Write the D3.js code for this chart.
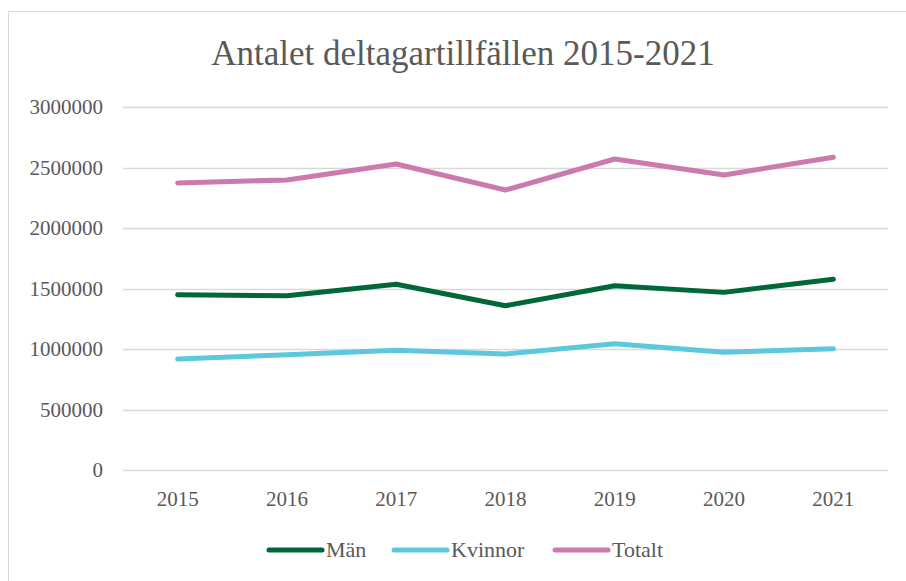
<!DOCTYPE html>
<html>
<head>
<meta charset="utf-8">
<script src="https://cdn.jsdelivr.net/npm/d3@7"></script>
<style>
  body { margin: 0; background: #fff; }
  svg { display: block; }
  text { font-family: "Liberation Serif", "DejaVu Serif", serif; fill: #595959; }
</style>
</head>
<body>
<svg id="chart" width="906" height="581"></svg>
<script>
const years = ["2015", "2016", "2017", "2018", "2019", "2020", "2021"];
const man = [1449000, 1440000, 1535000, 1358000, 1523000, 1468000, 1576000];
const kvinnor = [917000, 953000, 989000, 959000, 1044000, 973000, 1003000];
const totalt = [2372000, 2397000, 2529000, 2314000, 2570000, 2438000, 2585000];
const yTicks = [0, 500000, 1000000, 1500000, 2000000, 2500000, 3000000];

const series = [
  { name: "Män", values: man, color: "#006838" },
  { name: "Kvinnor", values: kvinnor, color: "#5BC8DB" },
  { name: "Totalt", values: totalt, color: "#CC79AD" },
];

const margin = { top: 107, right: 18, bottom: 111, left: 123 };
const width = 906, height = 581;

const svg = d3.select("#chart");

// chart frame
svg.append("rect")
  .attr("x", 8.5).attr("y", 11.5)
  .attr("width", 920).attr("height", 600)
  .attr("fill", "#fff")
  .attr("stroke", "#d9d9d9")
  .attr("stroke-width", 1);

const xScale = d3.scaleBand()
  .domain(years)
  .range([margin.left, width - margin.right]);

const yScale = d3.scaleLinear()
  .domain([0, 3000000])
  .range([height - margin.bottom, margin.top]);

// gridlines
svg.append("g")
  .selectAll("line")
  .data(yTicks)
  .join("line")
  .attr("x1", margin.left).attr("x2", width - margin.right)
  .attr("y1", d => Math.round(yScale(d)) + 0.5)
  .attr("y2", d => Math.round(yScale(d)) + 0.5)
  .attr("stroke", "#d9d9d9")
  .attr("stroke-width", 1.3);

// y axis labels
const yAxis = svg.append("g")
  .attr("transform", `translate(${margin.left - 20},0)`)
  .call(d3.axisLeft(yScale).tickValues(yTicks).tickFormat(d3.format("d")).tickSize(0));
yAxis.select(".domain").remove();
yAxis.selectAll("text")
  .attr("x", 0)
  .attr("font-size", 21)
  .attr("font-family", "Liberation Serif, serif")
  .attr("fill", "#595959");

// x axis labels
const xAxis = svg.append("g")
  .attr("transform", `translate(0,${height - margin.bottom})`)
  .call(d3.axisBottom(xScale).tickSize(0));
xAxis.select(".domain").remove();
xAxis.selectAll("text")
  .attr("y", 36)
  .attr("dy", null)
  .attr("font-size", 21)
  .attr("font-family", "Liberation Serif, serif")
  .attr("fill", "#595959");

const line = d3.line()
  .x((d, i) => xScale(years[i]) + xScale.bandwidth() / 2)
  .y(d => yScale(d));

svg.append("g")
  .attr("fill", "none")
  .attr("stroke-width", 5)
  .attr("stroke-linejoin", "round")
  .attr("stroke-linecap", "round")
  .selectAll("path")
  .data(series)
  .join("path")
  .attr("d", d => line(d.values))
  .attr("stroke", d => d.color);

// title
svg.append("text")
  .attr("x", 463).attr("y", 65)
  .attr("text-anchor", "middle")
  .attr("font-size", 35)
  .attr("fill", "#595959")
  .text("Antalet deltagartillfällen 2015-2021");

// legend
const legendX = [267, 392, 553];
const legend = svg.append("g")
  .selectAll("g")
  .data(series)
  .join("g")
  .attr("transform", (d, i) => `translate(${legendX[i]},550)`);
legend.append("line")
  .attr("x1", 2).attr("x2", 55)
  .attr("stroke", d => d.color)
  .attr("stroke-width", 5)
  .attr("stroke-linecap", "round");
legend.append("text")
  .attr("x", 59).attr("y", 7)
  .attr("font-size", 22)
  .text(d => d.name);
</script>
</body>
</html>
